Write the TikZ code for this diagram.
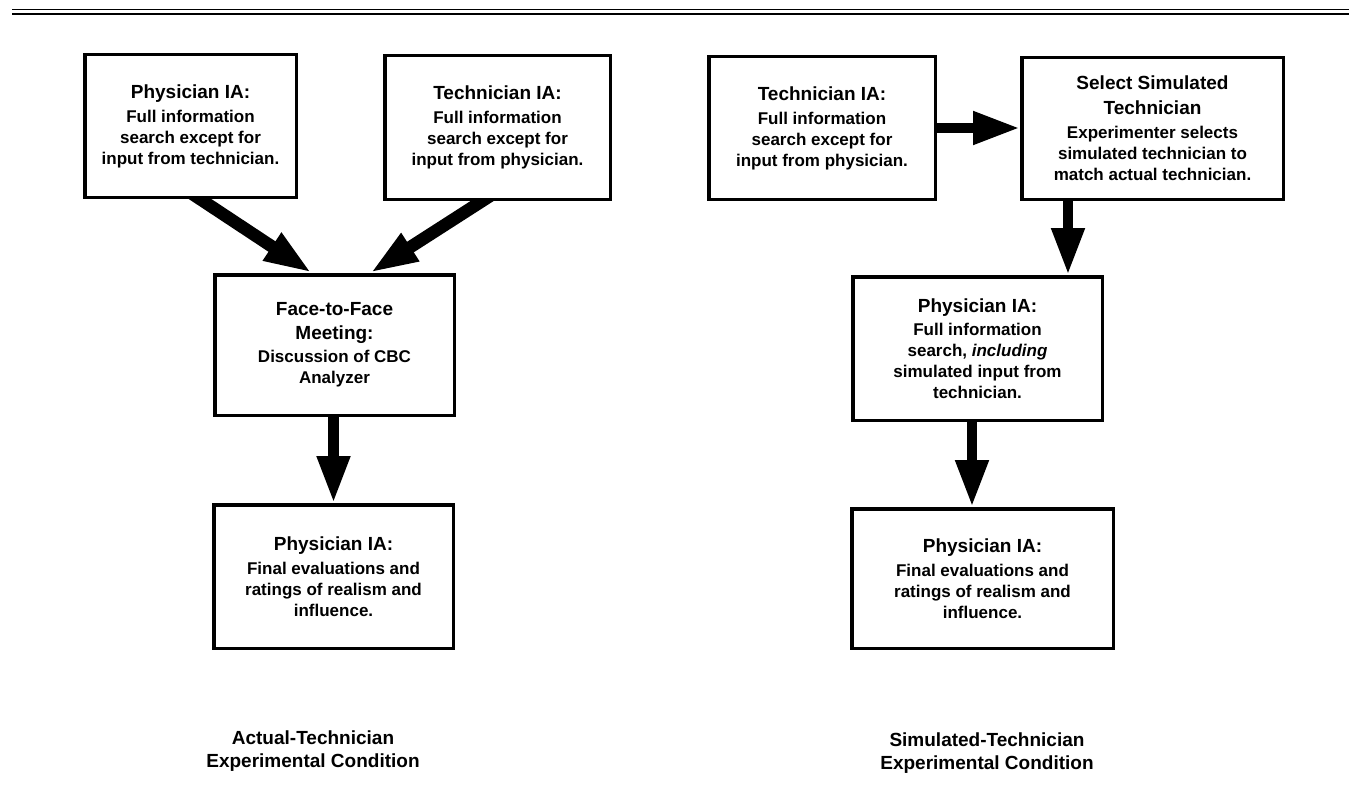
\documentclass[tikz,border=0pt]{standalone}
\usepackage{fontspec}
\setmainfont{Liberation Sans}
\usetikzlibrary{arrows.meta}
\pgfdeclarelayer{bg}
\pgfsetlayers{bg,main}
\begin{document}
\begin{tikzpicture}[x=1pt,y=-1pt,
  bx/.style={draw, line width=3.5pt, fill=white, align=center, inner sep=0pt,
    font=\bfseries\fontsize{17}{21}\selectfont},
  fat/.style={line width=10.5pt, -{Triangle[length=47pt,width=31pt]}},
  fatd/.style={line width=12.5pt, -{Triangle[length=48pt,width=30pt]}},
  captxt/.style={align=center, inner sep=0pt, font=\bfseries\fontsize{19}{23}\selectfont}
]
\useasboundingbox (0,0) rectangle (1349,800);
\begin{pgfonlayer}{bg}
  \fill[white] (0,0) rectangle (1349,800);
\end{pgfonlayer}

% rule at top
\draw[line width=1.5pt] (12,9.3) -- (1349,9.3);
\draw[line width=2.3pt] (12,13.8) -- (1349,13.8);

% left condition
\node[bx, minimum width=211.5pt, minimum height=142.5pt] (A) at (190.5,126)
  {{\fontsize{19}{23}\selectfont Physician IA:}\\[3pt]Full information\\search except for\\input from technician.};
\node[bx, minimum width=225.5pt, minimum height=143.5pt] (B) at (497.5,127.5)
  {{\fontsize{19}{23}\selectfont Technician IA:}\\[3pt]Full information\\search except for\\input from physician.};
\node[bx, minimum width=239.5pt, minimum height=140.5pt] (C) at (334.5,345)
  {{\fontsize{19}{23}\selectfont Face-to-Face}\\[3pt]{\fontsize{19}{23}\selectfont Meeting:}\\[2pt]Discussion of CBC\\Analyzer};
\node[bx, minimum width=239.5pt, minimum height=143.5pt] (D) at (333.5,576.5)
  {{\fontsize{19}{23}\selectfont Physician IA:}\\[3pt]Final evaluations and\\ratings of realism and\\influence.};

% right condition
\node[bx, minimum width=226.5pt, minimum height=142.5pt] (E) at (822,128)
  {{\fontsize{19}{23}\selectfont Technician IA:}\\[3pt]Full information\\search except for\\input from physician.};
\node[bx, minimum width=261.5pt, minimum height=141.5pt] (F) at (1152.5,128.5)
  {{\fontsize{19}{23}\selectfont Select Simulated}\\[4pt]{\fontsize{19}{23}\selectfont Technician}\\[3pt]Experimenter selects\\simulated technician to\\match actual technician.};
\node[bx, minimum width=249.5pt, minimum height=143.5pt] (G) at (977.5,348.5)
  {{\fontsize{19}{23}\selectfont Physician IA:}\\[2pt]Full information\\search, \textit{including}\\simulated input from\\technician.};
\node[bx, minimum width=261.5pt, minimum height=139.5pt] (H) at (982.5,578.5)
  {{\fontsize{19}{23}\selectfont Physician IA:}\\[3pt]Final evaluations and\\ratings of realism and\\influence.};

% captions
\node[captxt] (capL) at (313,751.5) {Actual-Technician\\Experimental Condition};
\node[captxt] (capR) at (987,753) {Simulated-Technician\\Experimental Condition};

% connectors
\begin{pgfonlayer}{bg}
  \draw[fatd] ([xshift=-2.6pt,yshift=8pt]A.south) -- ([xshift=-22.5pt]C.north);
  \draw[fatd] ([xshift=-2.9pt,yshift=8pt]B.south) -- ([xshift=35.5pt]C.north);
  \draw[fat] ([xshift=-1pt]C.south) -- ([xshift=-1pt]C.south |- D.north);
  \draw[fat] (E.east) -- (E.east -| F.west);
  \draw[fat] ([xshift=-84.5pt]F.south) -- ([xshift=-84.5pt]F.south |- G.north);
  \draw[fat] ([xshift=-5.5pt]G.south) -- ([xshift=-5.5pt]G.south |- H.north);
\end{pgfonlayer}
\end{tikzpicture}
\end{document}
